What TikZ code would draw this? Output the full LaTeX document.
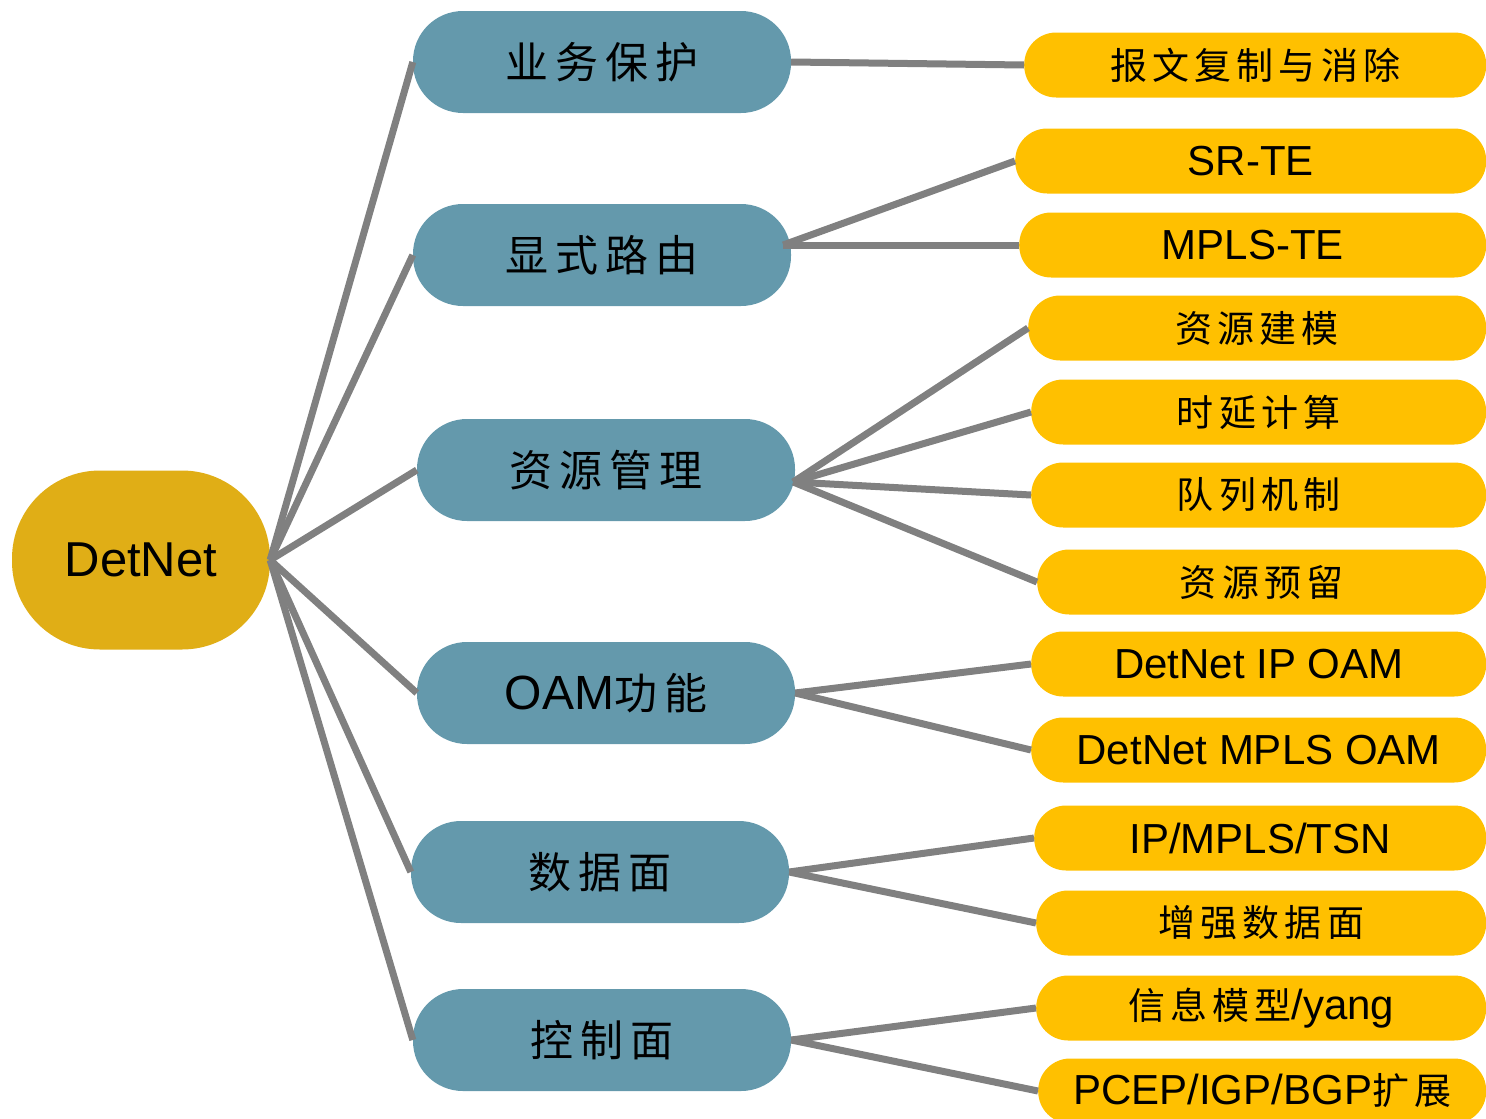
\documentclass[tikz,border=0pt]{standalone}
\usepackage{fontspec}
\setmainfont{Liberation Sans}
\newfontfamily\zhtopic[LetterSpace=16]{Noto Sans CJK SC}
\newfontfamily\zhleaf[LetterSpace=14]{Noto Sans CJK SC}
\definecolor{rootgold}{HTML}{E0AE16}
\definecolor{topicblue}{HTML}{6499AC}
\definecolor{leafyellow}{HTML}{FFC000}
\definecolor{linegray}{HTML}{808080}
\newcommand{\tz}[1]{{\zhtopic\fontsize{43}{46}\selectfont #1}}
\newcommand{\lz}[1]{{\zhleaf\fontsize{37}{40}\selectfont #1}}
\tikzset{
  link/.style={draw=linegray, line width=7pt},
  rootbox/.style={fill=rootgold, rounded corners=88pt, minimum width=258pt,
    minimum height=179pt, inner sep=0pt, font=\fontsize{49}{52}\selectfont},
  topicbox/.style={fill=topicblue, rounded corners=50pt, minimum width=378pt,
    minimum height=102pt, inner sep=0pt, font=\fontsize{48}{50}\selectfont},
  leafbox/.style={fill=leafyellow, rounded corners=32pt, minimum height=65pt,
    inner sep=0pt, anchor=west, font=\fontsize{42}{44}\selectfont}
}
\begin{document}
\begin{tikzpicture}[x=1pt, y=-1pt]
\useasboundingbox (0,0) rectangle (1486,1119);
\clip (0,0) rectangle (1486,1119);

% root
\node[rootbox] (det) at (141,560) {DetNet};

% second level
\node[topicbox] (prot) at (602,62)   {\tz{业务保护}};
\node[topicbox] (route) at (602,255) {\tz{显式路由}};
\node[topicbox] (res) at (606,470)   {\tz{资源管理}};
\node[topicbox] (oam) at (606,693)   {OAM\tz{功能}};
\node[topicbox] (dp) at (600,872)    {\tz{数据面}};
\node[topicbox] (cp) at (602,1040)   {\tz{控制面}};

% leaves
\node[leafbox, minimum width=462pt] (pref) at (1024,65)  {\lz{报文复制与消除}};
\node[leafbox, minimum width=471pt] (srte) at (1015,161) {SR-TE};
\node[leafbox, minimum width=467pt] (mpte) at (1019,245) {MPLS-TE};
\node[leafbox, minimum width=458pt] (rmod) at (1028,328) {\lz{资源建模}};
\node[leafbox, minimum width=455pt] (lat)  at (1031,412) {\lz{时延计算}};
\node[leafbox, minimum width=455pt] (que)  at (1031,495) {\lz{队列机制}};
\node[leafbox, minimum width=449pt] (resv) at (1037,582) {\lz{资源预留}};
\node[leafbox, minimum width=455pt] (ipoam) at (1031,664) {DetNet IP OAM};
\node[leafbox, minimum width=455pt] (mpoam) at (1031,750) {DetNet MPLS OAM};
\node[leafbox, minimum width=452pt] (tsn)  at (1034,838) {IP/MPLS/TSN};
\node[leafbox, minimum width=450pt] (edp)  at (1036,923) {\lz{增强数据面}};
\node[leafbox, minimum width=450pt] (yang) at (1036,1008) {\lz{信息模型}/yang};
\node[leafbox, minimum width=448pt] (pcep) at (1038,1091) {PCEP/IGP/BGP\lz{扩展}};

% branch points on the right of the topic boxes
\coordinate (routeout) at ([shift={(-8,-10)}]route.east);
\coordinate (resout) at ([shift={(-2,12)}]res.east);

% connectors
\foreach \t in {prot,route,res,oam,dp,cp}
  \draw[link] (det.east) -- (\t.west);
\draw[link] (prot.east) -- (pref.west);
\foreach \t in {srte,mpte}
  \draw[link] (routeout) -- (\t.west);
\foreach \t in {rmod,lat,que,resv}
  \draw[link] (resout) -- (\t.west);
\foreach \t in {ipoam,mpoam}
  \draw[link] (oam.east) -- (\t.west);
\foreach \t in {tsn,edp}
  \draw[link] (dp.east) -- (\t.west);
\foreach \t in {yang,pcep}
  \draw[link] (cp.east) -- (\t.west);
\end{tikzpicture}
\end{document}
